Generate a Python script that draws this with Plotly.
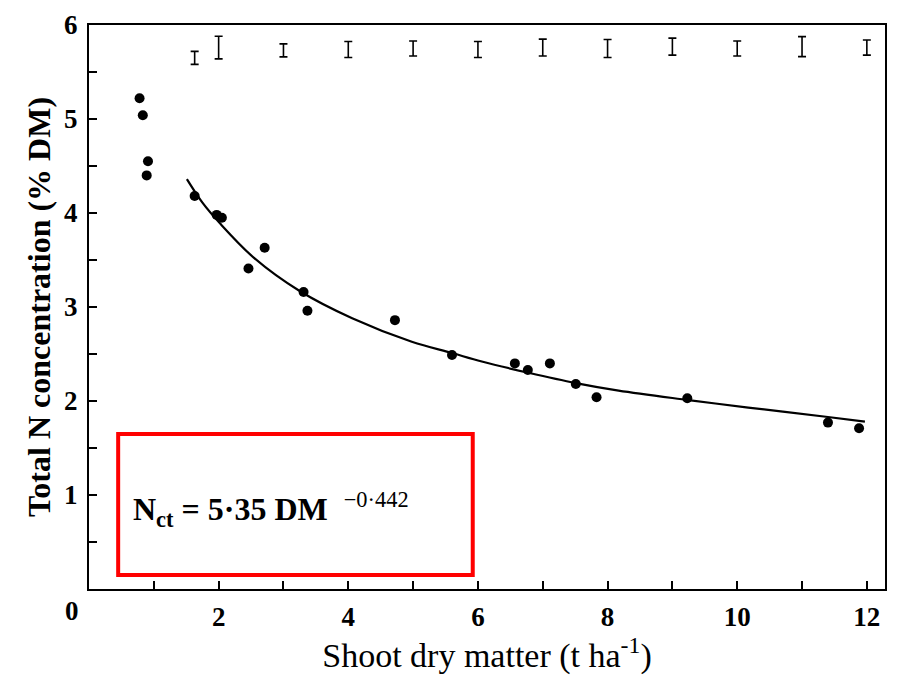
import plotly.graph_objects as go

# Observed data points (shoot dry matter t/ha, N concentration % DM)
dm_obs = [0.78, 0.83, 0.91, 0.89, 1.63, 1.97, 2.05, 2.46, 2.71, 3.31, 3.37, 4.72,
          5.60, 6.57, 6.77, 7.11, 7.51, 7.83, 9.23, 11.40, 11.88]
n_obs = [5.22, 5.04, 4.55, 4.40, 4.18, 3.98, 3.95, 3.41, 3.63, 3.16, 2.96, 2.86,
         2.49, 2.40, 2.33, 2.40, 2.18, 2.04, 2.03, 1.77, 1.71]

# Fitted critical N curve
dm_fit = [1.51, 1.75, 2.02, 2.55, 3.25, 4.06, 4.98, 5.60, 6.06, 6.78, 7.51, 8.17,
          9.25, 10.17, 11.40, 11.97]
n_fit = [4.36, 4.11, 3.89, 3.52, 3.17, 2.88, 2.63, 2.51, 2.42, 2.30, 2.19, 2.11,
         2.01, 1.93, 1.83, 1.78]

# Error bars along the top
bar_x = [1.63, 2, 3, 4, 5, 6, 7, 8, 9, 10, 11, 12]
bar_y = [5.65, 5.76, 5.73, 5.74, 5.75, 5.74, 5.76, 5.75, 5.77, 5.75, 5.77, 5.76]
bar_half = [0.069, 0.12, 0.069, 0.085, 0.08, 0.085, 0.09, 0.095, 0.09, 0.08, 0.106, 0.08]

x_tickvals = [2, 4, 6, 8, 10, 12]
y_tickvals = [1, 2, 3, 4, 5, 6]

FONT = "Liberation Serif"

fig = go.Figure()
fig.add_trace(go.Scatter(x=dm_fit, y=n_fit, mode="lines",
                         line=dict(color="black", width=2.2, shape="spline", smoothing=1.0),
                         showlegend=False, hoverinfo="skip"))
fig.add_trace(go.Scatter(x=dm_obs, y=n_obs, mode="markers",
                         marker=dict(color="black", size=10, symbol="circle"), showlegend=False))
fig.add_trace(go.Scatter(x=bar_x, y=bar_y, mode="markers", marker=dict(size=0.1, color="black"),
                         error_y=dict(type="data", array=bar_half, visible=True, color="black",
                                      thickness=1.6, width=4),
                         showlegend=False))

axis_common = dict(showgrid=False, zeroline=False, showline=True, linecolor="black", linewidth=2,
                   mirror=True, ticks="inside", ticklen=8, tickwidth=1.5, tickcolor="black",
                   tickfont=dict(family=FONT, size=27, color="black", weight="bold"))

fig.update_xaxes(range=[0, 12.28], tickvals=x_tickvals, ticklabelstandoff=3,
                 minor=dict(dtick=1, tick0=0, ticks="inside", ticklen=8, tickcolor="black", tickwidth=1.5),
                 title=dict(text="Shoot dry matter (t ha<sup>-1</sup>)",
                            font=dict(family=FONT, size=34, color="black"), standoff=4),
                 **axis_common)
fig.update_yaxes(range=[0, 6], tickvals=y_tickvals, ticklabelstandoff=4,
                 minor=dict(dtick=0.5, tick0=0, ticks="inside", ticklen=8, tickcolor="black", tickwidth=1.5),
                 title=dict(text="Total N concentration (% DM)",
                            font=dict(family=FONT, size=32, color="black", weight="bold"), standoff=4),
                 **axis_common)

# Origin label
fig.add_annotation(x=-0.033, y=0, xref="paper", yref="paper", yanchor="top", yshift=-5, showarrow=False,
                   text="0", font=dict(family=FONT, size=27, color="black", weight="bold"))

# Equation box
fig.add_shape(type="rect", xref="x", yref="y", x0=0.45, x1=5.92, y0=0.15, y1=1.65,
              line=dict(color="#ff0000", width=4), fillcolor="rgba(0,0,0,0)")
fig.add_annotation(x=0.65, y=0.85, xref="x", yref="y", xanchor="left", showarrow=False,
                   text="<b>N<sub>ct</sub> = 5·35 DM </b> <sup>−0·442</sup>",
                   font=dict(family=FONT, size=32, color="black"))

fig.update_layout(width=897, height=675, margin=dict(l=89, r=10, t=23, b=86),
                  plot_bgcolor="white", paper_bgcolor="white")

fig.write_html("out.html")
